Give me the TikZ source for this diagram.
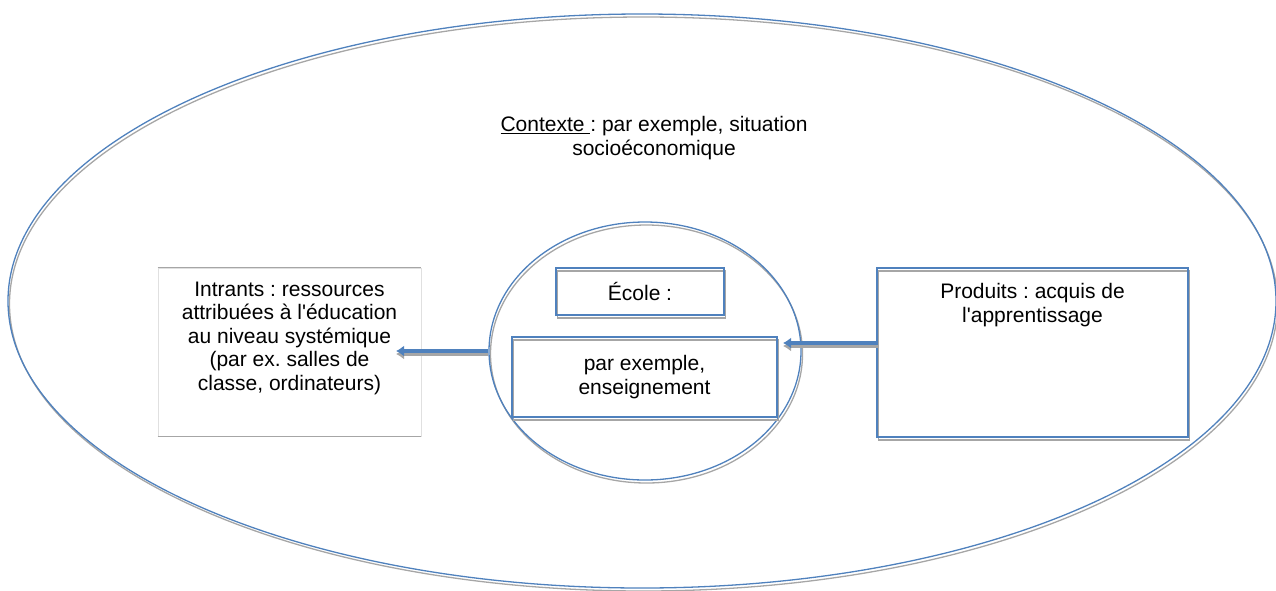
\documentclass[tikz,border=0pt]{standalone}
\usepackage{fontspec}
\setmainfont{Liberation Sans}
\usetikzlibrary{positioning, arrows.meta, shapes.geometric, shadows}

\definecolor{officeblue}{HTML}{4F81BD}
\definecolor{shadowgray}{HTML}{A6A6A6}
\frenchspacing

\begin{document}
\begin{tikzpicture}[x=1pt, y=-1pt]

        % Setup the styles
        \tikzset{blue shape/.style={draw=officeblue,
                                    line width=1.3pt,
                                    inner sep=0pt,
                                    drop shadow={shadow xshift=1.5pt,
                                                 shadow yshift=-3pt,
                                                 fill=none,
                                                 draw=shadowgray,
                                                 opacity=1}
                                    },
                 box text/.style={align=center,
                                  inner sep=0pt,
                                  font=\fontsize{21}{23.5}\selectfont
                                  },
                 flow arrow/.style={-{Latex[length=8pt,width=11pt]},
                                    line width=4.5pt,
                                    draw=officeblue
                                    },
                 flow shadow/.style={-{Latex[length=8pt,width=11pt]},
                                     line width=4.5pt,
                                     draw=shadowgray
                                     }}

        \useasboundingbox (0,0) rectangle (1276,590);

        % Draw the context and the school
        \node[blue shape, ellipse, minimum width=1268pt, minimum height=574pt] at (642, 301) (Contexte) {};
        \node[box text] at (654, 138) (ContexteText)
            {\underline{Contexte~}: par exemple, situation\\socioéconomique};
        \node[blue shape, ellipse, minimum width=312pt, minimum height=258pt] at (645, 351) (EcoleRond) {};
        \node[blue shape, box text, minimum width=168pt, minimum height=47pt] at (640, 291.5) (Ecole) {École :};
        \node[blue shape, box text, minimum width=265pt, minimum height=80pt] at (644.5, 377) (Exemple)
            {par exemple,\\enseignement};

        % Draw the inputs and outputs
        \node[draw=black!12, line width=0.8pt, minimum width=263pt, minimum height=168pt] at (289.5, 352) (Intrants) {};
        \draw[shadowgray, line width=1.5pt] (Intrants.north west) -- (Intrants.north east);
        \draw[shadowgray, line width=1.5pt] (Intrants.south west) -- (Intrants.south east);
        \node[box text, below=14pt of Intrants.north] (IntrantsText)
            {Intrants : ressources\\attribuées à l\textquotesingle éducation\\au niveau systémique\\(par ex. salles de\\classe, ordinateurs)};
        \node[blue shape, minimum width=311pt, minimum height=169pt] at (1032.5, 352.5) (Produits) {};
        \node[box text, below=16pt of Produits.north] (ProduitsText)
            {Produits : acquis de\\l\textquotesingle apprentissage};

        % Connect the boxes with arrows
        \coordinate (IntrantsEnd) at (396, 351);
        \coordinate (ProduitsStart) at (878, 343);
        \coordinate (ExempleEnd) at (783, 343);
        \draw[flow shadow] ([yshift=-3pt]EcoleRond.west) -- ([yshift=-3pt]IntrantsEnd);
        \draw[flow arrow] (EcoleRond.west) -- (IntrantsEnd);
        \draw[flow shadow] ([yshift=-3pt]ProduitsStart) -- ([yshift=-3pt]ExempleEnd);
        \draw[flow arrow] (ProduitsStart) -- (ExempleEnd);
      \end{tikzpicture}
\end{document}
